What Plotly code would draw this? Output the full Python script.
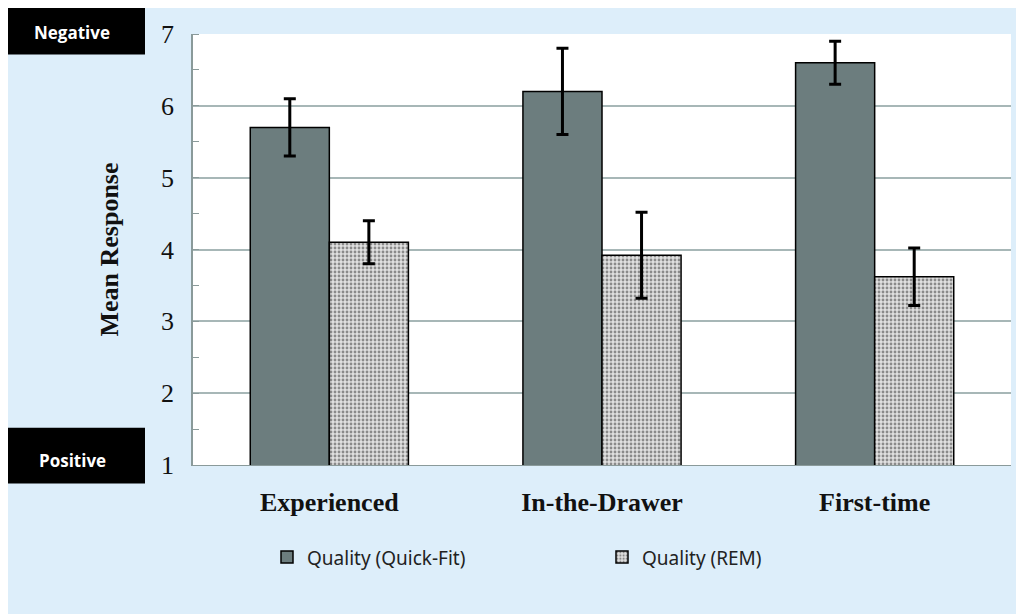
import plotly.graph_objects as go

groups = ["Experienced", "In-the-Drawer", "First-time"]
quick_fit = [5.7, 6.2, 6.6]
quick_fit_err = [0.4, 0.6, 0.3]
rem = [4.1, 3.92, 3.62]
rem_err = [0.3, 0.6, 0.4]

# page has an 8px body margin, so work in shifted coords
OFF = 8
W, H = 1016, 606
L, R, T, B = 193 - OFF, 21 - OFF, 25 - OFF, 606 - (465 - OFF)

fig = go.Figure()
fig.add_trace(go.Bar(
    x=groups, y=quick_fit, name="Quality (Quick-Fit)",
    marker=dict(color="#6c7d7e", line=dict(color="black", width=1.5)),
    error_y=dict(type="data", array=quick_fit_err, color="black", thickness=3, width=6),
))
fig.add_trace(go.Bar(
    x=groups, y=rem, name="Quality (REM)",
    marker=dict(color="#d8d8d8", line=dict(color="black", width=1.5),
                pattern=dict(shape=".", fgcolor="#333333", bgcolor="#e0e0e0", size=4, solidity=0.4)),
    error_y=dict(type="data", array=rem_err, color="black", thickness=3, width=6),
))

def px2paper_x(px):
    return (px - OFF - L) / (W - L - R)

def px2paper_y(py):
    return (H - B - (py - OFF)) / (H - T - B)

for text, y0, y1 in [("Negative", 0, 46), ("Positive", 437, 484)]:
    fig.add_shape(type="rect", xref="paper", yref="paper",
                  x0=px2paper_x(-10), x1=px2paper_x(145), y0=px2paper_y(y1), y1=px2paper_y(y0 - 10),
                  fillcolor="black", line=dict(width=0))
    fig.add_annotation(text=f"<b>{text}</b>", xref="paper", yref="paper",
                       x=px2paper_x(72), y=px2paper_y((y0 + y1) / 2), showarrow=False,
                       xanchor="center", yanchor="middle",
                       font=dict(family="Open Sans", size=17, color="white"))

fig.update_layout(
    width=W, height=H,
    margin=dict(l=L, r=R, t=T, b=B),
    paper_bgcolor="#ddeefa", plot_bgcolor="white",
    barmode="group", bargap=0.42, bargroupgap=0,
    legend=dict(orientation="h", x=0.5, xanchor="center", y=-0.17, yanchor="top",
                font=dict(family="Noto Sans", size=19, color="#222"), itemwidth=30,
                entrywidth=290),
)
fig.update_xaxes(showline=True, linecolor="#8a9a9a", ticks="outside", tickcolor="#8a9a9a",
                 tickfont=dict(family="Liberation Serif", size=26, color="#111"),
                 tickprefix="<b>", ticksuffix="</b>", ticklen=0, ticklabelstandoff=14)
fig.update_yaxes(range=[1, 7], dtick=1, showgrid=True, gridcolor="#a7b7b7", gridwidth=1.5,
                 showline=True, linecolor="#8a9a9a", linewidth=1.5,
                 ticks="outside", tickcolor="#8a9a9a", ticklen=0, ticklabelstandoff=12,
                 minor=dict(dtick=0.5, ticks="inside", ticklen=6, tickcolor="#8a9a9a", showgrid=False),
                 tickfont=dict(family="Liberation Serif", size=26, color="#111"),
                 title=dict(text="<b>Mean Response</b>", standoff=35,
                            font=dict(family="Liberation Serif", size=26, color="#111")))

fig.write_html("out.html")
